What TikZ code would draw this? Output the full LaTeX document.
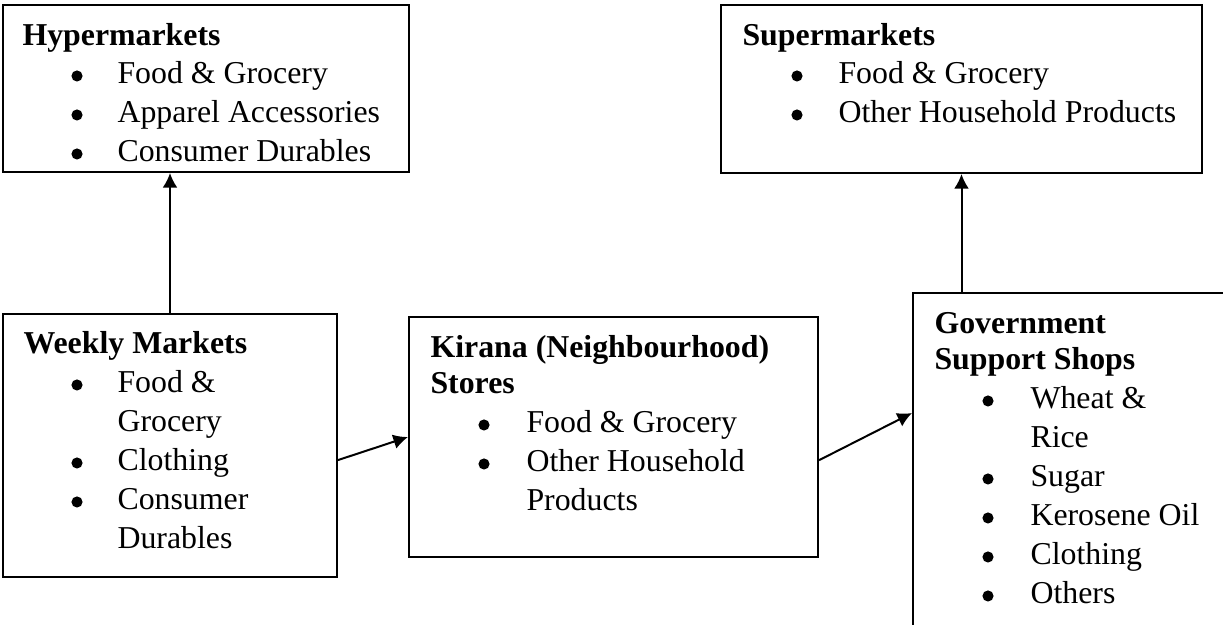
\documentclass[tikz,border=0pt]{standalone}
\usepackage{fontspec}
\setmainfont{Liberation Serif}
\usetikzlibrary{fit,arrows.meta,calc}
\begin{document}
\begin{tikzpicture}[x=0.377pt,y=-0.377pt,
  box/.style={draw,line width=0.75pt,inner sep=0pt,rectangle},
  ttl/.style={anchor=base west,inner sep=0pt,font=\fontsize{12}{14}\selectfont\bfseries},
  itm/.style={anchor=base west,inner sep=0pt,font=\fontsize{12}{14}\selectfont},
  bul/.style={circle,fill,inner sep=0pt,minimum size=4.2pt,yshift=2.65pt},
  arr/.style={line width=0.75pt,-{Latex[length=5.5pt,width=5.6pt]}}]
\useasboundingbox (0,0) rectangle (1223,624);
\clip (0,0) rectangle (1223,624);
% boxes
\node[box,fit={(3,5) (409,172)}] (hyper) {};
\node[box,fit={(721,5) (1202,173)}] (super) {};
\node[box,fit={(3,314) (337,577)}] (weekly) {};
\node[box,fit={(409,317) (818,557)}] (kirana) {};
\node[box,fit={(913,293) (1260,680)}] (gov) {};
% Hypermarkets
\node[ttl] (h0) at (22,45) {Hypermarkets};
\node[bul] (hb1) at (77,83) {}; \node[itm] (h1) at (117,83) {Food \& Grocery};
\node[bul] (hb2) at (77,122) {}; \node[itm] (h2) at (117,122) {Apparel Accessories};
\node[bul] (hb3) at (77,161) {}; \node[itm] (h3) at (117,161) {Consumer Durables};
% Supermarkets
\node[ttl] (s0) at (742,45) {Supermarkets};
\node[bul] (sb1) at (797,83) {}; \node[itm] (s1) at (838,83) {Food \& Grocery};
\node[bul] (sb2) at (797,122) {}; \node[itm] (s2) at (838,122) {Other Household Products};
% Weekly
\node[ttl] (w0) at (23,353) {Weekly Markets};
\node[bul] (wb1) at (77,392) {}; \node[itm] (w1) at (117,392) {Food \&};
\node[itm] (w1b) at (117,431) {Grocery};
\node[bul] (wb2) at (77,470) {}; \node[itm] (w2) at (117,470) {Clothing};
\node[bul] (wb3) at (77,509) {}; \node[itm] (w3) at (117,509) {Consumer};
\node[itm] (w3b) at (117,548) {Durables};
% Kirana
\node[ttl] (k0) at (430,357) {Kirana (Neighbourhood)};
\node[ttl] (k0b) at (430,393) {Stores};
\node[bul] (kb1) at (484,432) {}; \node[itm] (k1) at (526,432) {Food \& Grocery};
\node[bul] (kb2) at (484,471) {}; \node[itm] (k2) at (526,471) {Other Household};
\node[itm] (k2b) at (526,510) {Products};
% Government
\node[ttl] (g0) at (934,333) {Government};
\node[ttl] (g0b) at (934,369) {Support Shops};
\node[bul] (gb1) at (988,408) {}; \node[itm] (g1) at (1030,408) {Wheat \&};
\node[itm] (g1b) at (1030,447) {Rice};
\node[bul] (gb2) at (988,486) {}; \node[itm] (g2) at (1030,486) {Sugar};
\node[bul] (gb3) at (988,525) {}; \node[itm] (g3) at (1030,525) {Kerosene Oil};
\node[bul] (gb4) at (988,564) {}; \node[itm] (g4) at (1030,564) {Clothing};
\node[bul] (gb5) at (988,603) {}; \node[itm] (g5) at (1030,603) {Others};
% connectors
\draw[arr] (weekly.north) -- (weekly.north |- hyper.south);
\draw[arr] (super.south |- gov.north) -- (super.south);
\draw[arr] ($(weekly.north east)!0.555!(weekly.south east)$) -- (kirana.west);
\draw[arr] ($(kirana.north east)!0.596!(kirana.south east)$) -- (gov.west |- 0,413);
\end{tikzpicture}
\end{document}
